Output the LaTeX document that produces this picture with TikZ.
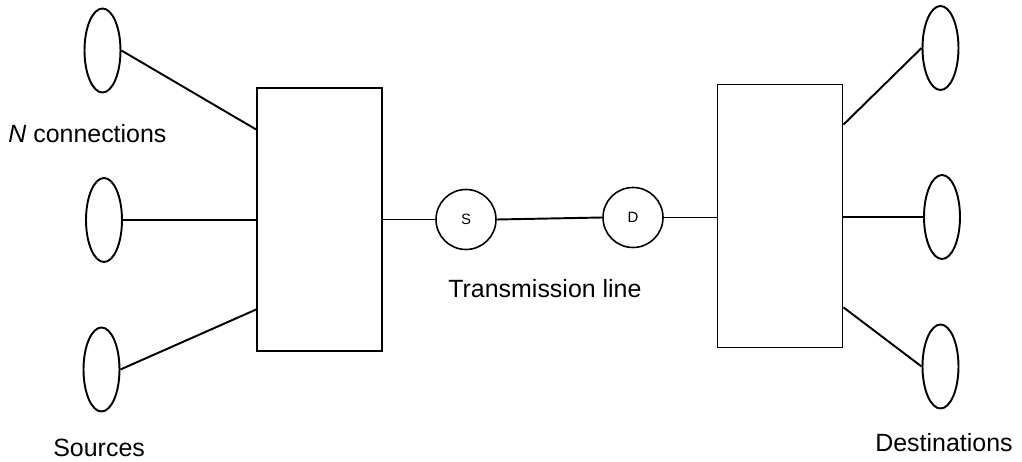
\documentclass[tikz,border=0pt]{standalone}
\usepackage{fontspec}
\setmainfont{Liberation Sans}
\usetikzlibrary{shapes.geometric,calc}
\tikzset{
	term/.style={draw=black, ellipse, line width=1.1pt, minimum width=0.72cm, minimum height=1.68cm, inner sep=0pt},
	mux/.style={draw=black, rectangle, line width=1.1pt, minimum width=2.5cm, minimum height=5.26cm, inner sep=0pt},
	port/.style={draw=black, circle, line width=0.9pt, minimum size=1.2cm, inner sep=0pt, font=\fontsize{8.5}{10}\selectfont},
	wire/.style={draw=black, line width=1.1pt},
	caption/.style={black, inner sep=0pt, font=\fontsize{14.2}{17}\selectfont}
}
\begin{document}
\begin{tikzpicture}[x=0.02cm, y=-0.02cm]
	\useasboundingbox (0,0) rectangle (1022,462);
	\node[term] (src1) at (102.5,50.5) {};
	\node[term] (src2) at (104.0,220.0) {};
	\node[term] (src3) at (101.5,369.5) {};
	\node[term] (dst1) at (940.5,48.0) {};
	\node[term] (dst2) at (942.0,217.0) {};
	\node[term] (dst3) at (940.5,366.5) {};
	\node[mux] (lmux) at (319.5,219.5) {};
	\node[mux] (rmux) at (780.0,216.0) {};
	\node[port] (sport) at (466.0,219.5) {S};
	\node[port] (dport) at (633.0,217.5) {D};
	\draw[wire] (src1.east) -- ($(lmux.north west)!0.16!(lmux.south west)$);
	\draw[wire] (src2.east) -- (src2.east -| lmux.west);
	\draw[wire] (src3.east) -- ($(lmux.north west)!0.84!(lmux.south west)$);
	\draw[wire] (dst1.west) -- ($(rmux.north east)!0.155!(rmux.south east)$);
	\draw[wire] (dst2.west) -- (dst2.west -| rmux.east);
	\draw[wire] (dst3.west) -- ($(rmux.north east)!0.845!(rmux.south east)$);
	\draw[wire] (sport.west -| lmux.east) -- (sport.west);
	\draw[wire] (sport.east) -- (dport.west);
	\draw[wire] (dport.east) -- (dport.east -| rmux.west);
	\node[caption, anchor=base west] (nconn) at (8,143) {\textit{N} connections};
	\node[caption, anchor=base west] (srclabel) at (53,457) {Sources};
	\node[caption, anchor=base west] (txlabel) at (448,298) {Transmission line};
	\node[caption, anchor=base west] (dstlabel) at (875,452) {Destinations};
\end{tikzpicture}
\end{document}
